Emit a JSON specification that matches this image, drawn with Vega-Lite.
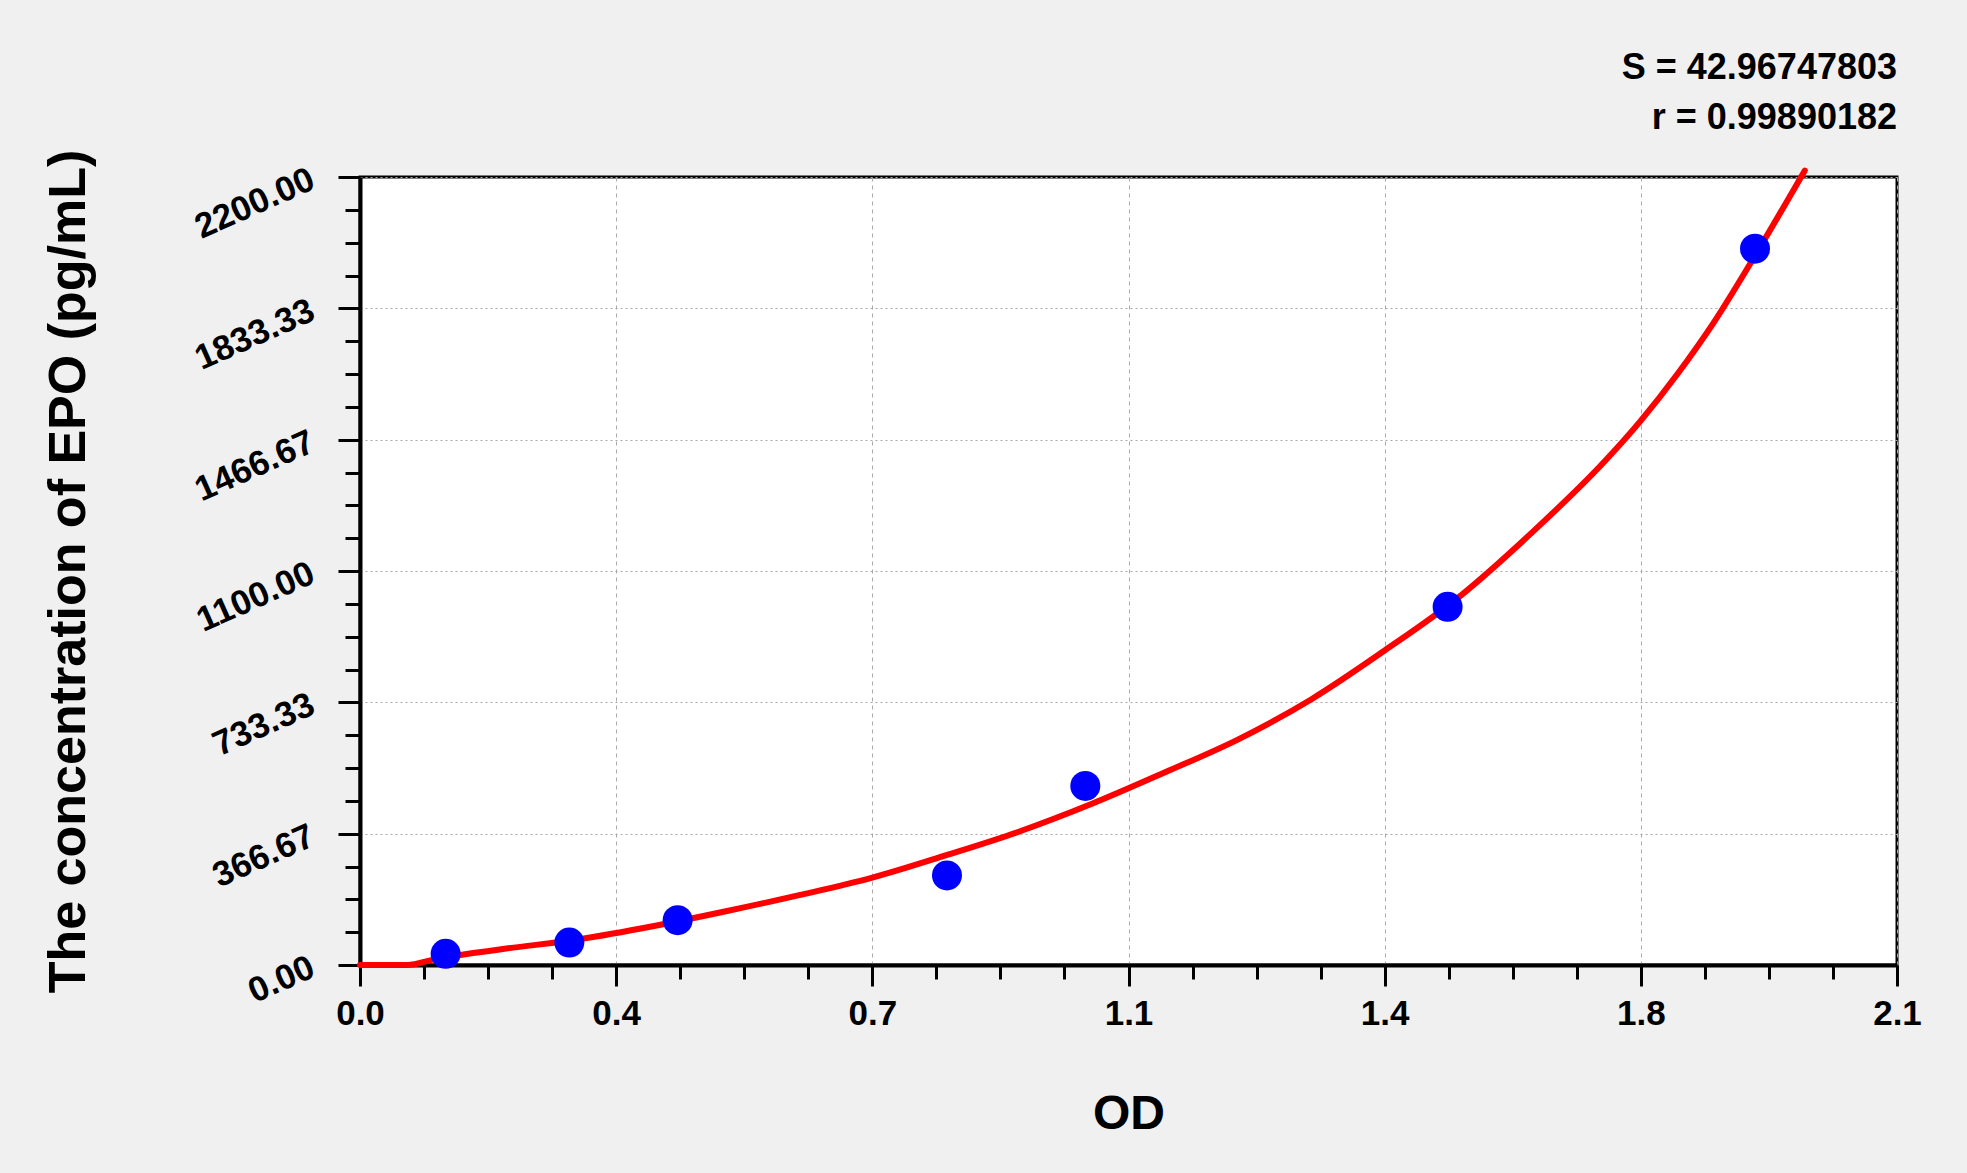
{
  "$schema": "https://vega.github.io/schema/vega-lite/v6.json",
  "autosize": {"type": "none"},
  "width": 1537,
  "height": 788,
  "padding": {"left": 360, "top": 177, "right": 70, "bottom": 208},
  "background": "#f0f0f0",
  "title": {
    "text": "S = 42.96747803",
    "subtitle": "r = 0.99890182",
    "anchor": "end",
    "frame": "group",
    "font": "Liberation Sans",
    "subtitleFont": "Liberation Sans",
    "fontSize": 36,
    "subtitleFontSize": 36,
    "fontWeight": "bold",
    "subtitleFontWeight": "bold",
    "color": "black",
    "subtitleColor": "black",
    "subtitlePadding": 14,
    "offset": 12
  },
  "datasets": {
    "standards": [
      {"od": 0.117, "conc": 31.25},
      {"od": 0.286, "conc": 62.5},
      {"od": 0.434, "conc": 125},
      {"od": 0.802, "conc": 250},
      {"od": 0.991, "conc": 500},
      {"od": 1.486, "conc": 1000},
      {"od": 1.906, "conc": 2000}
    ],
    "fit": [
      {"od": 0.0, "conc": 0},
      {"od": 0.065, "conc": 0},
      {"od": 0.1, "conc": 15},
      {"od": 0.15, "conc": 32},
      {"od": 0.2, "conc": 46},
      {"od": 0.3, "conc": 72},
      {"od": 0.4, "conc": 108},
      {"od": 0.5, "conc": 150},
      {"od": 0.6, "conc": 195},
      {"od": 0.7, "conc": 244},
      {"od": 0.8, "conc": 306},
      {"od": 0.9, "conc": 372},
      {"od": 1.0, "conc": 450},
      {"od": 1.1, "conc": 538},
      {"od": 1.2, "conc": 630},
      {"od": 1.3, "conc": 742},
      {"od": 1.4, "conc": 878},
      {"od": 1.5, "conc": 1025},
      {"od": 1.6, "conc": 1205},
      {"od": 1.7, "conc": 1405},
      {"od": 1.75, "conc": 1520},
      {"od": 1.8, "conc": 1650},
      {"od": 1.85, "conc": 1795},
      {"od": 1.9, "conc": 1960},
      {"od": 1.974, "conc": 2218}
    ]
  },
  "encoding": {
    "x": {
      "field": "od",
      "type": "quantitative",
      "scale": {"domain": [0, 2.1], "nice": false, "zero": false},
      "axis": {
        "title": "OD",
        "values": [0, 0.0875, 0.175, 0.2625, 0.35, 0.4375, 0.525, 0.6125, 0.7, 0.7875, 0.875, 0.9625, 1.05, 1.1375, 1.225, 1.3125, 1.4, 1.4875, 1.575, 1.6625, 1.75, 1.8375, 1.925, 2.0125, 2.1],
        "labelExpr": "abs(datum.value / 0.35 - round(datum.value / 0.35)) < 0.01 ? format(datum.value + 0.001, '.1f') : ''",
        "tickSize": {"condition": {"test": "abs(datum.value / 0.35 - round(datum.value / 0.35)) < 0.01", "value": 21}, "value": 14},
        "gridOpacity": {"condition": {"test": "abs(datum.value / 0.35 - round(datum.value / 0.35)) < 0.01", "value": 1}, "value": 0},
        "gridDash": [4, 4],
        "labelFontSize": 35,
        "labelPadding": 10,
        "labelFlush": false,
        "labelOverlap": false,
        "titleFontSize": 48,
        "titlePadding": 59
      }
    },
    "y": {
      "field": "conc",
      "type": "quantitative",
      "scale": {"domain": [0, 2200], "nice": false},
      "axis": {
        "title": "The concentration of EPO (pg/mL)",
        "values": [0, 91.6666667, 183.3333333, 275, 366.6666667, 458.3333333, 550, 641.6666667, 733.3333333, 825, 916.6666667, 1008.333333, 1100, 1191.666667, 1283.333333, 1375, 1466.666667, 1558.333333, 1650, 1741.666667, 1833.333333, 1925, 2016.666667, 2108.333333, 2200],
        "labelExpr": "abs(datum.value / 366.6666667 - round(datum.value / 366.6666667)) < 0.01 ? format(datum.value, '.2f') : ''",
        "tickSize": {"condition": {"test": "abs(datum.value / 366.6666667 - round(datum.value / 366.6666667)) < 0.01", "value": 22}, "value": 15},
        "gridOpacity": {"condition": {"test": "abs(datum.value / 366.6666667 - round(datum.value / 366.6666667)) < 0.01", "value": 1}, "value": 0},
        "gridDash": [2, 3],
        "labelAngle": -24,
        "labelAlign": "right",
        "labelBaseline": "middle",
        "labelFontSize": 35,
        "labelPadding": 26,
        "labelFlush": false,
        "labelOverlap": false,
        "titleFontSize": 52,
        "titlePadding": 94
      }
    }
  },
  "layer": [
    {
      "data": {"name": "fit"},
      "mark": {"type": "line", "color": "#ff0000", "strokeWidth": 6, "interpolate": "monotone", "strokeCap": "round", "clip": false}
    },
    {
      "data": {"name": "standards"},
      "mark": {"type": "circle", "color": "#0000ff", "opacity": 1, "size": 900}
    }
  ],
  "config": {
    "font": "Liberation Sans",
    "view": {"stroke": "black", "strokeWidth": 3, "fill": "white"},
    "axis": {
      "domainColor": "black",
      "domainWidth": 4,
      "tickColor": "black",
      "tickWidth": 3,
      "gridColor": "#a8a8a8",
      "gridWidth": 1,
      "labelColor": "black",
      "labelFont": "Liberation Sans",
      "labelFontWeight": "bold",
      "titleColor": "black",
      "titleFont": "Liberation Sans",
      "titleFontWeight": "bold"
    }
  }
}
